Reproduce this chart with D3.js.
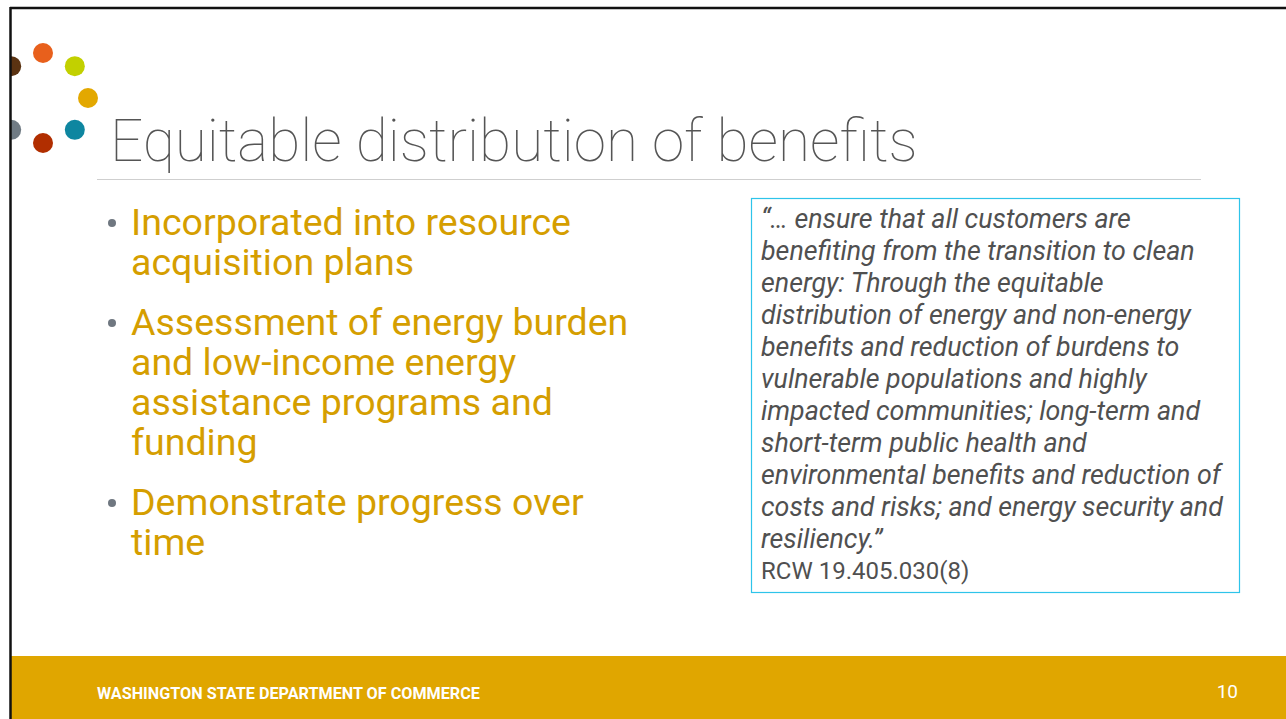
<html>
<script src="https://d3js.org/d3.v7.min.js"></script>
<style>
    body { margin: 0; background: #fff; }
    svg { display: block; }
    text { font-family: Roboto, "Open Sans", sans-serif; }
    .title { font-weight: 100; fill: #555; font-size: 58.5px; }
    .bullet text { fill: #d59e00; font-size: 37.5px; }
    .bullet circle { fill: #6f7780; }
    .quote text { fill: #505050; font-size: 26.8px; font-style: italic; }
    .quote .src { font-style: normal; font-size: 24px; }
    .footer text { fill: #fff; }
</style>

<svg width=1286 height=719></svg>

<script>
    let svg = d3.select('svg'),
        width = +svg.attr('width'),
        height = +svg.attr('height');

    // decoration dots round the title, placed on a ring (angles in degrees)
    let dotColors = ['#5b3312', '#e8601c', '#c2d000', '#e3a800', '#0e86a0', '#b12e00', '#707b84'];
    let dotAngles = [135, 90, 45, 0, -45, -90, -135];

    let title = 'Equitable distribution of benefits';

    let bullets = [
        ['Incorporated into resource', 'acquisition plans'],
        ['Assessment of energy burden', 'and low-income energy', 'assistance programs and', 'funding'],
        ['Demonstrate progress over', 'time']
    ];

    let quoteLines = [
        '\u201c\u2026 ensure that all customers are',
        'benefiting from the transition to clean',
        'energy: Through the equitable',
        'distribution of energy and non-energy',
        'benefits and reduction of burdens to',
        'vulnerable populations and highly',
        'impacted communities; long-term and',
        'short-term public health and',
        'environmental benefits and reduction of',
        'costs and risks; and energy security and',
        'resiliency.\u201d'
    ];
    let quoteSource = 'RCW 19.405.030(8)';

    let footerText = 'WASHINGTON STATE DEPARTMENT OF COMMERCE';
    let pageNumber = '10';

    svg.append('clipPath').attr('id', 'slide')
      .append('rect').attr('x', 11).attr('y', 9).attr('width', width).attr('height', height);

    let g = svg.append('g').attr('clip-path', 'url(#slide)');

    // dot ring
    let ring = { cx: 43, cy: 98, r: 45 };
    let rad = a => Math.PI / 180 * a;
    g.append('g').selectAll('circle')
        .data(dotColors)
        .enter().append('circle')
        .attr('cx', (d, i) => ring.cx + ring.r * Math.cos(rad(dotAngles[i])))
        .attr('cy', (d, i) => ring.cy - ring.r * Math.sin(rad(dotAngles[i])))
        .attr('r', 10)
        .attr('fill', d => d);

    g.append('text').attr('class', 'title')
        .attr('x', 110).attr('y', 161)
        .text(title);

    g.append('line')
        .attr('x1', 97).attr('x2', 1201).attr('y1', 179.5).attr('y2', 179.5)
        .attr('stroke', '#cfcfcf').attr('stroke-width', 1);

    // bullets: flatten into lines, each with its own baseline
    let lineH = 40, gap = 20;
    let rows = [];
    let y = 235;
    bullets.forEach(b => {
        b.forEach((t, li) => { rows.push({ t: t, first: li === 0, y: y }); y += lineH; });
        y += gap;
    });

    let bl = g.append('g').attr('class', 'bullet');
    bl.selectAll('text').data(rows).enter().append('text')
        .attr('x', 131).attr('y', d => d.y).text(d => d.t);
    bl.selectAll('circle').data(rows.filter(d => d.first)).enter().append('circle')
        .attr('cx', 112).attr('cy', d => d.y - 12).attr('r', 4);

    // quote box
    let qy = d3.scaleLinear().domain([0, 1]).range([228, 260]);
    let q = g.append('g').attr('class', 'quote');
    q.append('rect')
        .attr('x', 751.5).attr('y', 198.5).attr('width', 488).attr('height', 394)
        .attr('fill', 'none').attr('stroke', '#2ec4ea').attr('stroke-width', 1.2);
    q.selectAll('text.line').data(quoteLines).enter().append('text')
        .attr('class', 'line')
        .attr('x', 761).attr('y', (d, i) => qy(i)).text(d => d);
    q.append('text').attr('class', 'src')
        .attr('x', 761).attr('y', qy(quoteLines.length) - 1).text(quoteSource);

    // footer band
    let f = g.append('g').attr('class', 'footer');
    f.append('rect').attr('x', 0).attr('y', 656).attr('width', width).attr('height', height - 656)
        .attr('fill', '#e0a600');
    f.append('text').attr('x', 97).attr('y', 699)
        .attr('font-size', 16.2).attr('font-weight', 700).text(footerText);
    f.append('text').attr('x', 1238).attr('y', 698).attr('text-anchor', 'end')
        .attr('font-size', 19).text(pageNumber);

    // slide frame
    svg.append('line').attr('x1', 10).attr('x2', width).attr('y1', 8).attr('y2', 8)
        .attr('stroke', '#111').attr('stroke-width', 2.5);
    svg.append('line').attr('x1', 10.5).attr('x2', 10.5).attr('y1', 7).attr('y2', height)
        .attr('stroke', '#111').attr('stroke-width', 2.5);
</script>
</html>
